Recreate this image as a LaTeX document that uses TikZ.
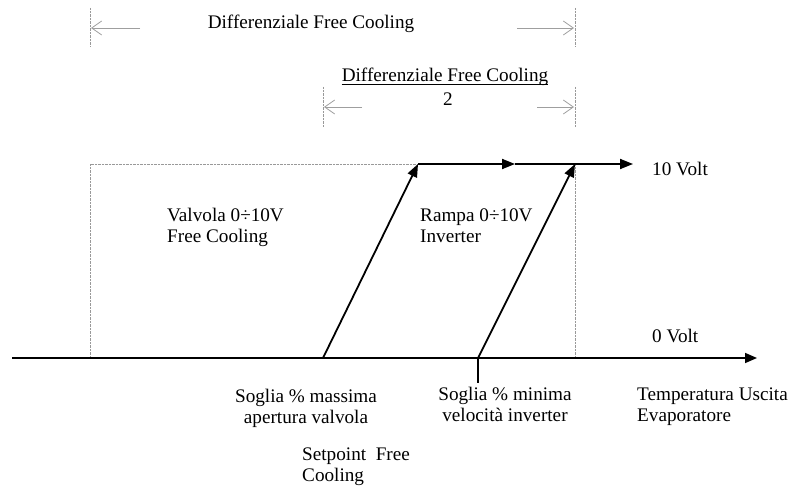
\documentclass[tikz,border=0pt]{standalone}
\usepackage{fontspec}
\setmainfont{Liberation Serif}
\usetikzlibrary{arrows.meta}
\begin{document}
\begin{tikzpicture}[x=1pt,y=-1pt,
  lbl/.style={font=\fontsize{19.2}{21}\selectfont, inner sep=0pt},
  dimarrow/.style={draw=gray!75, line width=0.8pt, -{Straight Barb[length=10pt,width=14pt]}},
  guide/.style={draw=gray!80, line width=0.9pt, dash pattern=on 0.8pt off 0.6pt},
  ramp/.style={draw=black, line width=1.8pt, -{Triangle[length=13pt,width=10pt]}},
  plain/.style={draw=black, line width=1.8pt}]
\useasboundingbox (0,0) rectangle (794,486);
% top dimension
\coordinate (t1a) at (90,8);   \coordinate (t1b) at (90,47);
\coordinate (t2a) at (575,8);  \coordinate (t2b) at (575,47);
\draw[guide] (t1a) -- (t1b);
\draw[guide] (t2a) -- (t2b);
\coordinate (ta1) at (140,28); \coordinate (ta1e) at (91,28);
\coordinate (ta2) at (517,28); \coordinate (ta2e) at (574,28);
\draw[dimarrow] (ta1) -- (ta1e);
\draw[dimarrow] (ta2) -- (ta2e);
\node[lbl, anchor=base] (tdiff) at (311,29) {Differenziale Free Cooling};
% second dimension
\coordinate (s1a) at (323,87);  \coordinate (s1b) at (323,127);
\coordinate (s2a) at (575,87);  \coordinate (s2b) at (575,127);
\draw[guide] (s1a) -- (s1b);
\draw[guide] (s2a) -- (s2b);
\coordinate (sa1) at (362,107); \coordinate (sa1e) at (324,107);
\coordinate (sa2) at (537,107); \coordinate (sa2e) at (574,107);
\draw[dimarrow] (sa1) -- (sa1e);
\draw[dimarrow] (sa2) -- (sa2e);
\node[lbl, anchor=base] (sdiff) at (445,82) {Differenziale Free Cooling};
\draw[black, line width=0.9pt] ([yshift=-2.5pt]sdiff.base west) -- ([yshift=-2.5pt]sdiff.base east);
\node[lbl, anchor=base] (stwo) at (448,106) {2};
% guide rectangle
\coordinate (r1) at (90,358);
\coordinate (r2) at (90,164);
\coordinate (r3) at (418,164);
\coordinate (r4) at (575,164);
\coordinate (r5) at (575,358);
\draw[guide] (r1) -- (r2) -- (r3);
\draw[guide] (r4) -- (r5);
% axis
\coordinate (ax0) at (12,358);
\coordinate (ax1) at (757,358);
\draw[draw=black, line width=1.6pt, -{Triangle[length=12pt,width=10pt]}] (ax0) -- (ax1);
% ramps
\coordinate (p1) at (323,358);
\coordinate (p2) at (418,164);
\coordinate (p3) at (515,164);
\coordinate (p4) at (633,164);
\coordinate (q1) at (478,358);
\coordinate (q2) at (575,164);
\coordinate (q0) at (478,383);
\draw[ramp] (p1) -- (p2);
\draw[ramp] (p2) -- (p3);
\draw[ramp] (p3) -- (p4);
\draw[ramp] (q1) -- (q2);
\draw[plain] (q1) -- (q0);
% labels (multi-line nodes: base = baseline of last line)
\node[lbl, anchor=base west, align=left] (valv) at (167,243) {Valvola 0÷10V\\Free Cooling};
\node[lbl, anchor=base west, align=left] (rampa) at (420,243) {Rampa 0÷10V\\Inverter};
\node[lbl, anchor=base west] (v10) at (652,176) {10 Volt};
\node[lbl, anchor=base west] (v0) at (652,342) {0 Volt};
\node[lbl, anchor=base, align=center] (smax) at (306,423) {Soglia \% massima\\apertura valvola};
\node[lbl, anchor=base west, align=left] (setp) at (302,481) {Setpoint\ \ Free\\Cooling};
\node[lbl, anchor=base, align=center] (smin) at (505,421) {Soglia \% minima\\velocità inverter};
\node[lbl, anchor=base west, align=left] (temp) at (637,421) {Temperatura Uscita\\Evaporatore};
\end{tikzpicture}
\end{document}
